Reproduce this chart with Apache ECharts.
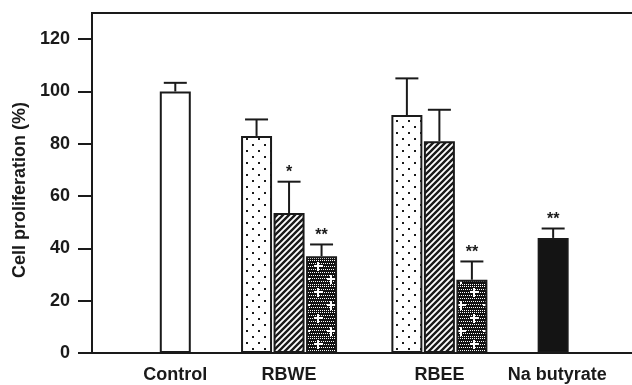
<!DOCTYPE html>
<html><head><meta charset="utf-8">
<script src="https://cdn.jsdelivr.net/npm/echarts@6/dist/echarts.min.js"></script>
<style>html,body{margin:0;padding:0;background:#fff}#c{width:632px;height:385px}</style>
</head><body><div id="c"></div>
<script>
// ---------- data ----------
const groups = ['Control', 'RBWE', 'RBEE', 'Na butyrate'];
const controlMean = [100];
const controlErr = [3.3];
const rbweMean = [83, 53.5, 37];
const rbweErr = [6.3, 12, 4.5];
const rbeeMean = [91, 81, 28];
const rbeeErr = [14, 12, 7];
const naMean = [44];
const naErr = [3.6];
const controlSig = [''];
const rbweSig = ['', '*', '**'];
const rbeeSig = ['', '', '**'];
const naSig = ['**'];
const controlFill = ['open'];
const rbweFill = ['dots', 'hatch', 'cross'];
const rbeeFill = ['dots', 'hatch', 'cross'];
const naFill = ['solid'];
const yTicks = [0, 20, 40, 60, 80, 100, 120];
const yTitle = 'Cell proliferation (%)';

// ---------- layout (category slots) ----------
const SLOT_COUNT = 135;
const BAR_SLOTS = 8;
const GROUP_FIRST_SLOT = [20, 40, 77, 113];
const GROUP_LABEL_SLOT = [20, 48, 85, 114];

const INK = '#1a1a1a';
const FONT = "'Liberation Sans', Arial, Helvetica, sans-serif";

function tile(w, h, draw) {
  const c = document.createElement('canvas');
  c.width = w; c.height = h;
  const g = c.getContext('2d');
  draw(g);
  return c;
}
const patterns = {
  open: '#ffffff',
  solid: '#141414',
  dots: { image: tile(12, 12, g => {
    g.fillStyle = '#fff'; g.fillRect(0, 0, 12, 12);
    g.fillStyle = INK; g.fillRect(0, 0, 2, 2); g.fillRect(6, 6, 2, 2);
  }), repeat: 'repeat' },
  hatch: { image: tile(6, 6, g => {
    g.fillStyle = '#fff'; g.fillRect(0, 0, 6, 6);
    g.strokeStyle = INK; g.lineWidth = 2.4;
    g.beginPath();
    g.moveTo(-3, 9); g.lineTo(9, -3);
    g.moveTo(-6, 6); g.lineTo(6, -6);
    g.moveTo(0, 12); g.lineTo(12, 0);
    g.stroke();
  }), repeat: 'repeat' },
  cross: { image: tile(26, 26, g => {
    g.fillStyle = '#111'; g.fillRect(0, 0, 26, 26);
    g.fillStyle = '#fff';
    for (let x = 0; x < 26; x += 2) for (let y = 0; y < 26; y += 3) g.fillRect(x + (y % 2), y, 1, 1);
    [[6, 6], [19, 19]].forEach(([cx, cy]) => {
      g.fillRect(cx - 4, cy - 1, 9, 2);
      g.fillRect(cx - 1, cy - 4, 2, 9);
    });
  }), repeat: 'repeat' }
};

const groupMeans = [controlMean, rbweMean, rbeeMean, naMean];
const groupErrs = [controlErr, rbweErr, rbeeErr, naErr];
const groupSigs = [controlSig, rbweSig, rbeeSig, naSig];
const groupFills = [controlFill, rbweFill, rbeeFill, naFill];

const slotNames = [];
const labelMap = {};
for (let i = 0; i < SLOT_COUNT; i++) slotNames.push('s' + i);
GROUP_LABEL_SLOT.forEach((s, g) => { labelMap[s] = groups[g]; });

const barData = new Array(SLOT_COUNT).fill('-');
const errData = [];
const sigData = [];
groupMeans.forEach((means, g) => {
  means.forEach((m, j) => {
    const slot = GROUP_FIRST_SLOT[g] + j * BAR_SLOTS;
    barData[slot] = { value: m, itemStyle: { color: patterns[groupFills[g][j]] } };
    errData.push([slot, m, groupErrs[g][j]]);
    sigData.push(groupSigs[g][j]);
  });
});

const chart = echarts.init(document.getElementById('c'), null, { renderer: 'canvas' });
chart.setOption({
  animation: false,
  backgroundColor: '#fff',
  grid: {
    left: 92, top: 13, width: 548.5, height: 340,
    show: true, borderColor: INK, borderWidth: 2, backgroundColor: 'transparent',
    containLabel: false, outerBoundsMode: 'none'
  },
  xAxis: {
    type: 'category',
    data: slotNames,
    boundaryGap: true,
    axisLine: { show: true, lineStyle: { color: INK, width: 2 } },
    axisTick: { show: false },
    splitLine: { show: false },
    axisLabel: {
      interval: 0, margin: 13,
      fontSize: 18, fontWeight: 'bold', color: INK, fontFamily: FONT,
      formatter: (v, i) => labelMap[i] || ''
    }
  },
  yAxis: {
    type: 'value', min: 0, max: 130, interval: 20,
    name: yTitle, nameLocation: 'middle', nameGap: 62,
    nameTextStyle: { fontSize: 18, fontWeight: 'bold', color: INK, fontFamily: FONT, padding: [0, 14, 0, 0] },
    axisLine: { show: true, lineStyle: { color: INK, width: 2 } },
    axisTick: { show: true, inside: false, length: 14, lineStyle: { color: INK, width: 2 }, customValues: yTicks },
    axisLabel: { customValues: yTicks, margin: 22, fontSize: 18, fontWeight: 'bold', color: INK, fontFamily: FONT },
    splitLine: { show: false }
  },
  series: [
    {
      type: 'bar',
      data: barData,
      barWidth: 31,
      itemStyle: { borderColor: INK, borderWidth: 2 },
      z: 2
    },
    {
      type: 'custom',
      data: errData,
      z: 3,
      renderItem: (params, api) => {
        const x = api.value(0), m = api.value(1), e = api.value(2);
        const top = api.coord([x, m]);
        const cap = api.coord([x, m + e]);
        const half = 11.5;
        const ls = { stroke: INK, lineWidth: 2 };
        const children = [
          { type: 'line', shape: { x1: top[0], y1: top[1], x2: cap[0], y2: cap[1] }, style: ls },
          { type: 'line', shape: { x1: cap[0] - half, y1: cap[1], x2: cap[0] + half, y2: cap[1] }, style: ls }
        ];
        const sig = sigData[params.dataIndex];
        if (sig) {
          children.push({
            type: 'text', x: cap[0], y: cap[1] - 1,
            style: { text: sig, textAlign: 'center', textVerticalAlign: 'bottom',
              font: 'bold 16px ' + FONT, fill: INK }
          });
        }
        return { type: 'group', children };
      }
    }
  ]
});
</script>
</body></html>
